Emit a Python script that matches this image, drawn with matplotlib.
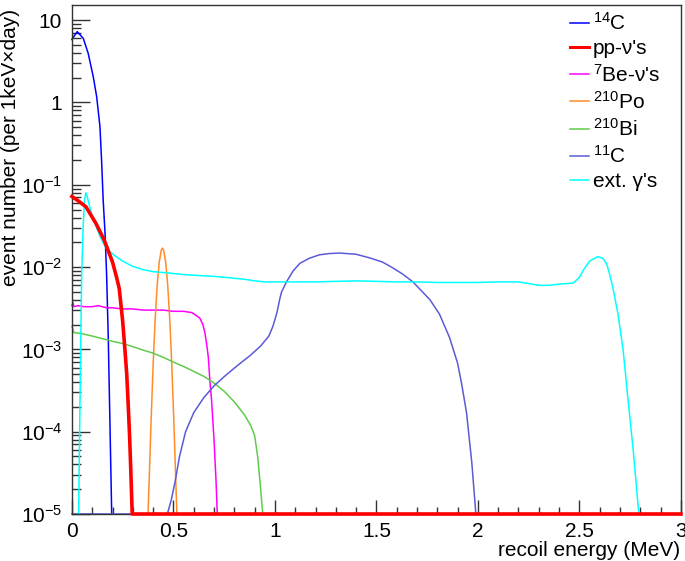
import numpy as np
import matplotlib
matplotlib.use("Agg")
import matplotlib.pyplot as plt
from matplotlib.ticker import FixedLocator, MultipleLocator, LogLocator, NullFormatter, FuncFormatter

plt.rcParams['font.family'] = ['Liberation Sans', 'DejaVu Sans']
plt.rcParams['mathtext.fontset'] = 'custom'
plt.rcParams['mathtext.rm'] = 'Liberation Sans'
plt.rcParams['mathtext.it'] = 'Liberation Sans:italic'
plt.rcParams['mathtext.default'] = 'regular'

# ==================== data ====================
c14_x = [0.0, 0.003, 0.026, 0.056, 0.080, 0.105, 0.122, 0.138, 0.146, 0.154, 0.163, 0.171, 0.179, 0.187, 0.196]
c14_y = [5.8, 6.0, 7.25, 6.0, 3.96, 2.06, 1.17, 0.51, 0.20, 0.065, 0.026, 0.008, 0.0014, 1.37e-4, 1e-5]

pp_x = [0.0, 0.03, 0.069, 0.118, 0.159, 0.2, 0.22, 0.233, 0.25, 0.261, 0.27, 0.277, 0.284, 0.29, 0.297, 3.0]
pp_y = [0.072, 0.064, 0.054, 0.034, 0.0213, 0.0115, 0.0075, 0.0055, 0.0022, 0.001, 5e-4, 2.2e-4, 9e-5, 3.4e-5, 1e-5, 1e-5]

be7_x = [0.0, 0.005, 0.01, 0.03, 0.06, 0.1, 0.13, 0.17, 0.2, 0.25, 0.3, 0.35, 0.4, 0.45, 0.5, 0.55,
         0.59, 0.61, 0.63, 0.645, 0.655, 0.665, 0.672, 0.68, 0.688, 0.70, 0.71, 0.716]
be7_y = [0.0034, 0.0037, 0.0033, 0.0034, 0.0033, 0.0033, 0.0034, 0.0032, 0.0032, 0.0031, 0.0031, 0.0030,
         0.0030, 0.0030, 0.0029, 0.0029, 0.0028, 0.0026, 0.0024, 0.0020, 0.0016, 0.0011, 8e-4, 4e-4,
         2.4e-4, 8e-5, 2.5e-5, 1e-5]

po210_x = [0.375, 0.39, 0.40, 0.41, 0.42, 0.43, 0.44, 0.446, 0.452, 0.462, 0.472, 0.482, 0.492, 0.502, 0.517]
po210_y = [1e-5, 1.34e-4, 6.5e-4, 0.0023, 0.006, 0.0114, 0.016, 0.017, 0.016, 0.0114, 0.006, 0.0023,
           6.5e-4, 1.34e-4, 1e-5]

bi210_x = [0.0, 0.01, 0.05, 0.1, 0.15, 0.2, 0.25, 0.3, 0.35, 0.4, 0.45, 0.5, 0.55, 0.6, 0.65, 0.7,
           0.75, 0.8, 0.85, 0.88, 0.9, 0.915, 0.93, 0.94]
bi210_y = [0.0019, 0.0016, 0.00155, 0.00145, 0.00135, 0.00125, 0.00118, 0.00108, 0.00098, 0.0009,
           0.0008, 0.0007, 0.00062, 0.00054, 0.00047, 0.00039, 0.00031, 0.00023, 0.00016, 0.00012,
           9e-5, 5e-5, 2e-5, 1e-5]

c11_x = [0.0, 0.47, 0.49, 0.51, 0.53, 0.56, 0.6, 0.65, 0.7, 0.76, 0.82, 0.88, 0.93, 0.97, 0.99, 1.01,
         1.025, 1.033, 1.057, 1.09, 1.123, 1.17, 1.22, 1.27, 1.32, 1.4, 1.468, 1.53, 1.58, 1.63, 1.68,
         1.72, 1.764, 1.81, 1.86, 1.9, 1.92, 1.944, 1.97, 1.99]
c11_y = [1e-5, 1e-5, 1.5e-5, 2.6e-5, 5e-5, 1.0e-4, 1.7e-4, 2.6e-4, 3.6e-4, 4.9e-4, 6.5e-4, 8.5e-4,
         1.1e-3, 1.45e-3, 1.9e-3, 2.8e-3, 4.2e-3, 5.0e-3, 6.6e-3, 9.0e-3, 0.0111, 0.0128, 0.0141,
         0.0146, 0.0148, 0.0143, 0.0129, 0.0115, 0.0098, 0.0082, 0.0066, 0.0052, 0.0040, 0.0027,
         0.0014, 6.8e-4, 3.8e-4, 1.7e-4, 4.2e-5, 1e-5]

gam_x = [0.033, 0.038, 0.043, 0.048, 0.055, 0.062, 0.069, 0.075, 0.085, 0.1, 0.12, 0.14, 0.167, 0.2,
         0.217, 0.25, 0.3, 0.35, 0.4, 0.47, 0.55, 0.62, 0.7, 0.78, 0.85, 0.9, 0.95, 1.0, 1.1, 1.2, 1.3,
         1.4, 1.5, 1.6, 1.7, 1.8, 1.9, 2.0, 2.1, 2.2, 2.25, 2.3, 2.35, 2.4, 2.47, 2.5, 2.52, 2.55,
         2.59, 2.615, 2.634, 2.65, 2.667, 2.69, 2.715, 2.74, 2.765, 2.79, 2.795]
gam_y = [1e-5, 1e-4, 1e-3, 0.008, 0.03, 0.065, 0.08, 0.072, 0.057, 0.042, 0.031, 0.023, 0.0171, 0.0145,
         0.0134, 0.0118, 0.0102, 0.0093, 0.0088, 0.0085, 0.0081, 0.0079, 0.0077, 0.0074, 0.0071, 0.0068,
         0.0066, 0.0066, 0.0066, 0.0066, 0.0067, 0.0068, 0.0067, 0.0066, 0.0066, 0.0065, 0.0065, 0.0065,
         0.0066, 0.0066, 0.0063, 0.0060, 0.0060, 0.0062, 0.0064, 0.0075, 0.0092, 0.0118, 0.0134, 0.0128,
         0.0110, 0.0080, 0.0053, 0.0027, 1.0e-3, 2.4e-4, 6e-5, 1.2e-5, 1e-5]

# ==================== plot ====================
fig = plt.figure(figsize=(6.85, 5.61), dpi=100)
ax = fig.add_axes([0.105, 0.0838, 0.889, 0.907])

lw = 1.1
ax.plot(c14_x, c14_y, color='#0000ff', lw=lw, label='$^{14}$C', clip_on=False)
ax.plot(pp_x, pp_y, color='#ff0000', lw=2.6, label="pp-ν's", clip_on=False, zorder=5)
ax.plot(be7_x, be7_y, color='#ff00ff', lw=lw, label="$^{7}$Be-ν's", clip_on=False)
ax.plot(po210_x, po210_y, color='#ff8c26', lw=lw, label='$^{210}$Po', clip_on=False)
ax.plot(bi210_x, bi210_y, color='#5fcc4a', lw=lw, label='$^{210}$Bi', clip_on=False)
ax.plot(c11_x, c11_y, color='#5b5bd6', lw=lw, label='$^{11}$C', clip_on=False)
ax.plot(gam_x, gam_y, color='#00ffff', lw=lw, label="ext. γ's", clip_on=False)

ax.set_yscale('log')
ax.set_xlim(0, 3)
ax.set_ylim(1e-5, 15.2)

ax.xaxis.set_major_locator(MultipleLocator(0.5))
ax.xaxis.set_minor_locator(MultipleLocator(0.1))
ax.xaxis.set_major_formatter(FuncFormatter(lambda v, p: f'{v:g}'))

def ylab(v, p):
    if v >= 10:
        return '10'
    if abs(v - 1) < 1e-9:
        return '1'
    return '$10^{%d}$' % int(round(np.log10(v)))

ax.yaxis.set_major_locator(FixedLocator([1e-5, 1e-4, 1e-3, 1e-2, 1e-1, 1, 10]))
ax.yaxis.set_minor_locator(LogLocator(base=10, subs=np.arange(2, 10)))
ax.yaxis.set_minor_formatter(NullFormatter())
ax.yaxis.set_major_formatter(FuncFormatter(ylab))

ax.tick_params(axis='both', which='both', direction='in', top=False, right=False,
               colors='#333333', labelcolor='black', labelsize=15)
ax.tick_params(axis='y', which='major', length=13, width=1.0, pad=7)
ax.tick_params(axis='y', which='minor', length=6.5, width=1.0)
ax.tick_params(axis='x', which='major', length=10, width=1.0, pad=6)
ax.tick_params(axis='x', which='minor', length=5, width=1.0)

for s in ax.spines.values():
    s.set_color('#333333')
    s.set_linewidth(1.0)

ax.set_xlabel('recoil energy (MeV)', fontsize=15, ha='right', va='top')
ax.xaxis.set_label_coords(0.998, -0.053)
ax.set_ylabel('event number (per 1keV×day)', fontsize=15, ha='right', va='top')
ax.yaxis.set_label_coords(-0.117, 0.992)

leg = ax.legend(loc='upper left', bbox_to_anchor=(570 / 685, 1 - 12 / 561),
                bbox_transform=fig.transFigure, frameon=False, fontsize=15,
                handlelength=0.9, handletextpad=0.2, labelspacing=0.255,
                borderpad=0, borderaxespad=0)
for line in leg.get_lines():
    line.set_linewidth(1.1)
leg.get_lines()[1].set_linewidth(2.2)

plt.savefig('out.png', dpi=100)
plt.close()
